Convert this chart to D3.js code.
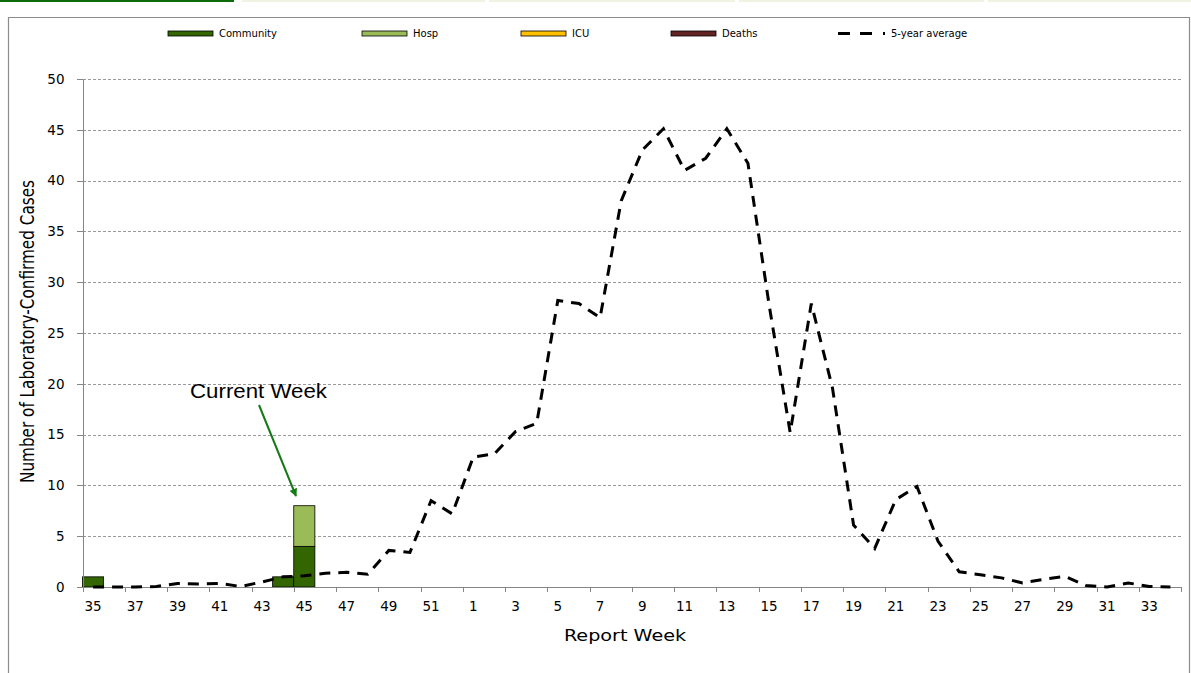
<!DOCTYPE html>
<meta charset="utf-8">
<head>
    <style>
        body { margin: 0; background: #fff; }
        .axis text { font: 13.5px "DejaVu Sans", Verdana, sans-serif; fill: #000; }
        .axis path, .axis line { fill: none; stroke: #868686; shape-rendering: crispEdges; }
        .grid line { stroke: #9a9a9a; stroke-dasharray: 3,2; shape-rendering: crispEdges; }
        .legend text { font: 10px "DejaVu Sans", Verdana, sans-serif; fill: #000; }
    </style>
</head>
<body>
<script src="https://d3js.org/d3.v7.min.js"></script>
<script>

    // report weeks, 35..52 then 1..34
    var weeks = [35, 36, 37, 38, 39, 40, 41, 42, 43, 44, 45, 46, 47, 48, 49, 50, 51, 52,
        1, 2, 3, 4, 5, 6, 7, 8, 9, 10, 11, 12, 13, 14, 15, 16, 17, 18, 19, 20, 21, 22, 23, 24,
        25, 26, 27, 28, 29, 30, 31, 32, 33, 34];

    var community = [1, 0, 0, 0, 0, 0, 0, 0, 0, 1, 4, 0, 0, 0, 0, 0, 0, 0,
        0, 0, 0, 0, 0, 0, 0, 0, 0, 0, 0, 0, 0, 0, 0, 0, 0, 0, 0, 0, 0, 0, 0, 0,
        0, 0, 0, 0, 0, 0, 0, 0, 0, 0];
    var hosp = [0, 0, 0, 0, 0, 0, 0, 0, 0, 0, 4, 0, 0, 0, 0, 0, 0, 0,
        0, 0, 0, 0, 0, 0, 0, 0, 0, 0, 0, 0, 0, 0, 0, 0, 0, 0, 0, 0, 0, 0, 0, 0,
        0, 0, 0, 0, 0, 0, 0, 0, 0, 0];
    var icu = weeks.map(function () { return 0; });
    var deaths = weeks.map(function () { return 0; });

    var fiveYearAvg = [0, 0, 0, 0.05, 0.35, 0.3, 0.35, 0.05, 0.5, 1.0, 1.1, 1.35, 1.45, 1.25, 3.6, 3.4, 8.5, 7.2,
        12.8, 13.1, 15.3, 16.1, 28.2, 27.9, 26.5, 38, 43, 45.1, 41, 42.2, 45.1, 41.7, 27.8, 15.2, 27.9, 19.6, 6.1, 3.8, 8.6, 9.9, 4.5, 1.5,
        1.2, 0.9, 0.4, 0.75, 1.05, 0.15, 0, 0.4, 0.05, 0];

    var yTicks = [0, 5, 10, 15, 20, 25, 30, 35, 40, 45, 50];

    var seriesNames = ["Community", "Hosp", "ICU", "Deaths"];
    var seriesColors = ["#336600", "#9bbb59", "#ffc000", "#632523"];

    var W = 1191, H = 673;
    var plotLeft = 82.5, plotRight = 1181, plotTop = 79, plotBottom = 587;

    var svg = d3.select("body").append("svg")
        .attr("width", W)
        .attr("height", H);

    // frame bits from the page
    svg.append("rect").attr("x", 0).attr("y", 0).attr("width", 234).attr("height", 2).attr("fill", "#0b6b0b");
    [[242, 485], [489, 735], [739, 984], [988, 1191]].forEach(function (s) {
        svg.append("rect").attr("x", s[0]).attr("y", 0).attr("width", s[1] - s[0]).attr("height", 2).attr("fill", "#eef3e2");
    });
    svg.append("path")
        .attr("d", "M8.5,673V17.5H1189.5V673")
        .attr("fill", "none")
        .attr("stroke", "#8c8c8c")
        .attr("stroke-width", 1.2);

    var x = d3.scaleBand()
        .domain(weeks)
        .range([plotLeft, plotRight])
        .padding(0);

    var xEdge = d3.scaleLinear()
        .domain([0, weeks.length])
        .range([plotLeft, plotRight]);

    var y = d3.scaleLinear()
        .domain([0, 50])
        .range([plotBottom, plotTop]);

    // grid lines
    svg.append("g")
        .attr("class", "grid")
        .selectAll("line")
        .data(yTicks.filter(function (d) { return d > 0; }))
        .enter().append("line")
        .attr("x1", plotLeft).attr("x2", plotRight)
        .attr("y1", function (d) { return Math.round(y(d)) + 0.5; })
        .attr("y2", function (d) { return Math.round(y(d)) + 0.5; });

    // stacked bars
    var rows = weeks.map(function (w, i) {
        return {week: w, Community: community[i], Hosp: hosp[i], ICU: icu[i], Deaths: deaths[i]};
    });
    var stacked = d3.stack().keys(seriesNames)(rows);

    svg.append("g").selectAll("g")
        .data(stacked)
        .enter().append("g")
        .attr("fill", function (d, i) { return seriesColors[i]; })
        .selectAll("rect")
        .data(function (d) { return d.filter(function (p) { return p[1] > p[0]; }); })
        .enter().append("rect")
        .attr("x", function (d) { return x(d.data.week); })
        .attr("width", x.bandwidth())
        .attr("y", function (d) { return y(d[1]); })
        .attr("height", function (d) { return y(d[0]) - y(d[1]); })
        .attr("stroke", "#000")
        .attr("stroke-width", 0.8);

    // y axis
    svg.append("g")
        .attr("class", "axis")
        .attr("transform", "translate(" + plotLeft + ",0)")
        .call(d3.axisLeft(y).tickValues(yTicks).tickSize(6).tickPadding(12).tickSizeOuter(0));

    // x axis: ticks on every 2nd category edge, labels on odd categories
    svg.append("g")
        .attr("class", "axis")
        .attr("transform", "translate(0," + plotBottom + ")")
        .call(d3.axisBottom(xEdge).tickValues(d3.range(0, weeks.length + 1, 2)).tickFormat("").tickSize(5).tickSizeOuter(0));

    svg.append("g")
        .attr("class", "axis")
        .selectAll("text")
        .data(weeks.filter(function (d, i) { return i % 2 === 0; }))
        .enter().append("text")
        .attr("x", function (d) { return x(d) + x.bandwidth() / 2; })
        .attr("y", 611)
        .attr("text-anchor", "middle")
        .text(function (d) { return d; });

    // 5-year average
    var line = d3.line()
        .x(function (d, i) { return x(weeks[i]) + x.bandwidth() / 2; })
        .y(function (d) { return y(d); });

    svg.append("path")
        .datum(fiveYearAvg)
        .attr("d", line)
        .attr("fill", "none")
        .attr("stroke", "#000")
        .attr("stroke-width", 3)
        .attr("stroke-dasharray", "11,8");

    // axis titles (source chart was stretched sideways)
    svg.append("text")
        .attr("transform", "translate(625,641) scale(1.2,1)")
        .attr("text-anchor", "middle")
        .style("font", "16px 'DejaVu Sans', Verdana, sans-serif")
        .text("Report Week");

    svg.append("text")
        .attr("transform", "translate(34,331.5) rotate(-90)")
        .attr("text-anchor", "middle")
        .attr("textLength", 303)
        .attr("lengthAdjust", "spacingAndGlyphs")
        .style("font", "19px 'Liberation Sans Narrow', 'Arial Narrow', 'DejaVu Sans Condensed', sans-serif")
        .text("Number of Laboratory-Confirmed Cases");

    // annotation
    svg.append("defs").append("marker")
        .attr("id", "arrow")
        .attr("viewBox", "0 0 10 10")
        .attr("refX", 9).attr("refY", 5)
        .attr("markerWidth", 4).attr("markerHeight", 4)
        .attr("orient", "auto")
        .append("path")
        .attr("d", "M0,0L10,5L0,10z")
        .attr("fill", "#177a17");

    svg.append("text")
        .attr("x", 190)
        .attr("y", 398)
        .style("font", "21px 'Liberation Sans', Arial, sans-serif")
        .attr("textLength", 137)
        .attr("lengthAdjust", "spacingAndGlyphs")
        .text("Current Week");

    svg.append("line")
        .attr("x1", 259).attr("y1", 405)
        .attr("x2", 296).attr("y2", 496)
        .attr("stroke", "#177a17")
        .attr("stroke-width", 2)
        .attr("marker-end", "url(#arrow)");

    // legend
    var legend = svg.append("g").attr("class", "legend");
    var legendX = [168, 362, 521, 671];
    seriesNames.forEach(function (name, i) {
        legend.append("rect")
            .attr("x", legendX[i]).attr("y", 31)
            .attr("width", 45).attr("height", 5)
            .attr("fill", seriesColors[i])
            .attr("stroke", "#000")
            .attr("stroke-width", 0.8);
        legend.append("text")
            .attr("x", legendX[i] + 51).attr("y", 37)
            .text(name);
    });
    legend.append("line")
        .attr("x1", 838).attr("x2", 886)
        .attr("y1", 33.5).attr("y2", 33.5)
        .attr("stroke", "#000")
        .attr("stroke-width", 3)
        .attr("stroke-dasharray", "12,10,12,11,2");
    legend.append("text")
        .attr("x", 891).attr("y", 37)
        .text("5-year average");

</script>
</body>
